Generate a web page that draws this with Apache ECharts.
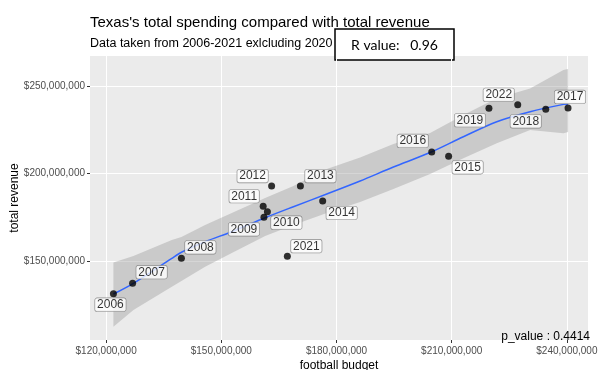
<!DOCTYPE html>
<html>
<head>
<meta charset="utf-8">
<script src="https://cdn.jsdelivr.net/npm/echarts@6/dist/echarts.min.js"></script>
<style>html,body{margin:0;padding:0;background:#fff;}#c{width:600px;height:370px;}</style>
</head>
<body>
<div id="c"></div>
<script>
// ---- data (US dollars) ----
const years   = ['2006','2007','2008','2009','2010','2011','2012','2013','2014','2015','2016','2017','2018','2019','2021','2022'];
const budget  = [121900000,126900000,139600000,161100000,162000000,160900000,163100000,170600000,176400000,209200000,204800000,240300000,234500000,219700000,167200000,227200000];
const revenue = [131500000,137500000,151700000,175100000,178300000,181400000,192900000,192900000,184400000,209900000,212400000,237500000,236700000,237300000,152900000,239300000];
// loess fit
const fitX  = [121.90,127.11,137.11,139.61,145.78,152.73,161.41,168.78,177.47,186.15,194.82,204.38,213.05,221.74,230.42,239.09,240.31].map(v=>v*1e6);
const fitY  = [131.36,137.46,151.71,155.13,161.17,166.88,174.86,181.13,188.37,195.78,203.76,212.03,221.04,229.59,235.29,239.51,239.68].map(v=>v*1e6);
const fitLo = [112.71,122.23,135.52,138.77,146.92,154.73,164.42,170.70,177.54,183.81,191.22,199.77,208.72,217.27,224.86,222.98,223.72].map(v=>v*1e6);
const fitHi = [149.32,153.02,162.14,163.85,170.70,177.54,186.09,192.93,202.62,209.18,216.88,223.15,233.41,242.93,248.63,259.07,259.64].map(v=>v*1e6);
const xTicks = [120000000,150000000,180000000,210000000,240000000];
const yTicks = [150000000,200000000,250000000];
const titleText = "Texas's total spending compared with total revenue";
const subtitleText = "Data taken from 2006-2021 exlcluding 2020";
const rValueText = "R value:   0.96";
const pValueText = "p_value : 0.4414";

// label placement (style only, pixel offsets)
const labelOffsets = {
  '2006':[-3,11],'2007':[19,-11],'2008':[19,-11],'2009':[-20,12],'2010':[19,11],
  '2011':[-19,-10],'2012':[-19,-10],'2013':[20,-10],'2014':[19,12],'2015':[19,11],
  '2016':[-19,-11],'2017':[2,-11],'2018':[-20,12],'2019':[-19,12],'2021':[19,-10],'2022':[-19,-10]
};

const money = v => '$' + Math.round(v).toLocaleString('en-US');
const FONT = 'Liberation Sans';

const chart = echarts.init(document.getElementById('c'), null, {renderer:'canvas'});
chart.setOption({
  animation:false,
  backgroundColor:'#ffffff',
  title:[
    {text:titleText,left:90,top:15,padding:0,textStyle:{fontFamily:FONT,fontSize:15,fontWeight:'normal',color:'#000'}},
    {text:subtitleText,left:90,top:37,padding:0,textStyle:{fontFamily:FONT,fontSize:12.5,fontWeight:'normal',color:'#000'}}
  ],
  grid:{left:90,right:12,top:56,bottom:30,show:true,backgroundColor:'#EBEBEB',borderWidth:0,
        containLabel:false,outerBoundsMode:'none'},
  xAxis:{
    type:'value',min:115800000,max:245500000,
    name:'football budget',nameLocation:'middle',nameGap:20,nameMoveOverlap:false,
    nameTextStyle:{fontFamily:FONT,fontSize:12,color:'#000'},
    axisLine:{show:false},
    axisTick:{show:true,length:3,customValues:xTicks,lineStyle:{color:'#333'}},
    axisLabel:{customValues:xTicks,formatter:money,fontFamily:FONT,fontSize:10,color:'#4d4d4d',margin:6},
    splitLine:{show:true,lineStyle:{color:'#ffffff',width:1}}
  },
  yAxis:{
    type:'value',min:105100000,max:267100000,
    name:'total revenue',nameLocation:'middle',nameGap:69,nameMoveOverlap:false,
    nameTextStyle:{fontFamily:FONT,fontSize:12,color:'#000'},
    axisLine:{show:false},
    axisTick:{show:true,length:3,customValues:yTicks,lineStyle:{color:'#333'}},
    axisLabel:{customValues:yTicks,formatter:money,fontFamily:FONT,fontSize:10,color:'#4d4d4d',margin:5},
    splitLine:{show:true,lineStyle:{color:'#ffffff',width:1}}
  },
  series:[
    {type:'custom',silent:true,z:1,clip:true,
     data:[[fitX[0],fitY[0]]],
     renderItem:(params,api)=>{
       const pts=[];
       for(let i=0;i<fitX.length;i++) pts.push(api.coord([fitX[i],fitHi[i]]));
       for(let i=fitX.length-1;i>=0;i--) pts.push(api.coord([fitX[i],fitLo[i]]));
       return {type:'polygon',shape:{points:pts},style:{fill:'rgba(153,153,153,0.4)'}};
     }},
    {type:'line',data:fitX.map((x,i)=>[x,fitY[i]]),symbol:'none',smooth:0.3,
     lineStyle:{color:'#3366FF',width:1.5},z:2},
    {type:'scatter',symbolSize:7,itemStyle:{color:'#000'},z:3,
     data:years.map((y,i)=>({value:[budget[i],revenue[i]],name:y,
       label:{offset:labelOffsets[y]}})),
     label:{show:true,position:'inside',formatter:p=>p.name,fontFamily:FONT,fontSize:12,color:'#000',
       backgroundColor:'#ffffff',borderColor:'#777',borderWidth:0.6,borderRadius:2,padding:[1,2,0,2]}}
  ],
  graphic:[
    {type:'group',z:100,children:[
      {type:'rect',shape:{x:335,y:29,width:119,height:31},style:{fill:'#ffffff',stroke:'#000',lineWidth:1.5}},
      {type:'text',x:394.5,y:45,style:{text:rValueText,fill:'#000',font:'14px Lato',align:'center',verticalAlign:'middle'}}
    ]},
    {type:'text',z:100,x:590,y:337,style:{text:pValueText,fill:'#000',font:'12px "Liberation Sans"',align:'right',verticalAlign:'middle'}}
  ]
});
</script>
</body>
</html>
